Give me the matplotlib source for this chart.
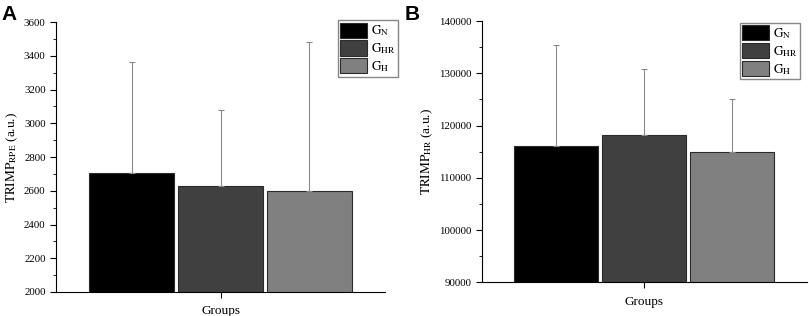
import matplotlib
matplotlib.use("Agg")
import matplotlib.pyplot as plt
from matplotlib.patches import Patch
from matplotlib.ticker import MultipleLocator

plt.rcParams["font.family"] = ["Liberation Serif", "DejaVu Serif"]
plt.rcParams["mathtext.fontset"] = "stix"

# data
groups = ["$\\mathrm{G}_\\mathrm{N}$", "$\\mathrm{G}_\\mathrm{HR}$", "$\\mathrm{G}_\\mathrm{H}$"]
colors = ["#000000", "#404040", "#808080"]
rpe_mean = [2706, 2629, 2597]
rpe_sd = [657, 449, 888]
hr_mean = [116000, 118200, 114900]
hr_sd = [19500, 12700, 10100]

fig = plt.figure(figsize=(8.09, 3.16), dpi=100)
axA = fig.add_axes([0.0692, 0.076, 0.4068, 0.854])
axB = fig.add_axes([0.5954, 0.1066, 0.4017, 0.8269])

pos = [-1, 0, 1]


def draw(ax, means, sds, ylim, major, minor, ylabel):
    ax.bar(pos, means, width=0.955, color=colors, edgecolor="#2b2b2b", linewidth=0.8,
           yerr=[[0, 0, 0], sds], error_kw=dict(ecolor="#8a8a8a", elinewidth=0.8,
                                                capsize=2.5, capthick=0.8))
    ax.set_xlim(-1.85, 1.85)
    ax.set_ylim(*ylim)
    ax.yaxis.set_major_locator(MultipleLocator(major))
    ax.yaxis.set_minor_locator(MultipleLocator(minor))
    ax.set_xticks([0])
    ax.set_xticklabels([""])
    ax.set_xlabel("Groups", fontsize=9.5, labelpad=2)
    ax.set_ylabel(ylabel, fontsize=9.5, labelpad=3)
    for s in ["top", "right"]:
        ax.spines[s].set_visible(False)
    for s in ["left", "bottom"]:
        ax.spines[s].set_linewidth(0.8)
    ax.tick_params(axis="both", which="major", direction="out", length=4, width=0.8,
                   labelsize=7.8)
    ax.tick_params(axis="y", which="minor", direction="out", length=2, width=0.6)


draw(axA, rpe_mean, rpe_sd, (2000, 3600), 200, 100, "$\\mathrm{TRIMP}_\\mathrm{RPE}$ (a.u.)")
draw(axB, hr_mean, hr_sd, (90000, 140000), 10000, 5000, "$\\mathrm{TRIMP}_\\mathrm{HR}$ (a.u.)")

handles = [Patch(facecolor=c, edgecolor="#2b2b2b", linewidth=0.8) for c in colors]
for anchor in [(398 / 809, 1 - 20 / 316), (800 / 809, 1 - 22.5 / 316)]:
    fig.legend(handles, groups, loc="upper right", bbox_to_anchor=anchor,
               fontsize=9.5, handlelength=2.0, handleheight=1.4, labelspacing=0.15,
               handletextpad=0.3, borderpad=0.2, borderaxespad=0, fancybox=False,
               edgecolor="#888888", framealpha=1)

fig.text(0.002, 0.985, "A", fontsize=15, fontweight="bold", family="Liberation Sans",
         va="top", ha="left")
fig.text(0.5, 0.985, "B", fontsize=15, fontweight="bold", family="Liberation Sans",
         va="top", ha="left")

fig.savefig("out.png", dpi=100)
